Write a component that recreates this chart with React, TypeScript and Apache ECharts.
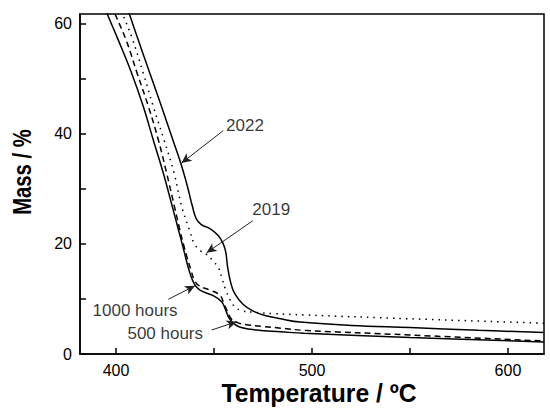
import React, { useEffect, useRef } from "react";
import * as echarts from "echarts";

// ---- data (temperature in °C, mass in %) ----
const temp2022 = [405.2, 406.8, 411.3, 417.3, 423.2, 429.0, 433.0, 436.4, 439, 440.9, 443.5, 447.9, 452, 454.5, 456, 456.9, 458.5, 460.5, 464.9, 470, 476, 484, 494, 520, 550, 585, 618.5];
const mass2022 = [63.5, 61.8, 57.1, 51, 45, 38.9, 34.7, 30.5, 26.8, 24.6, 23.5, 22.8, 21.6, 20.2, 18.5, 15.9, 13, 11, 9.0, 7.8, 7.0, 6.4, 5.8, 5.2, 4.8, 4.3, 3.9];

const temp2019 = [401.6, 403.4, 408.5, 413.9, 419, 424.5, 429.6, 433.5, 437.5, 440, 443, 446.2, 449, 452.2, 454.2, 455.8, 458, 460.5, 464, 470, 480, 496, 550, 618.5];
const mass2019 = [63.5, 61.8, 57.1, 51, 45, 38.9, 32.9, 26.8, 22.5, 20, 18.8, 18.1, 17.1, 15.7, 13.6, 11.8, 10, 8.6, 7.9, 7.6, 7.35, 7.1, 6.4, 5.6];

const temp1000h = [397.6, 399.5, 405.1, 410.8, 416.5, 421.6, 425.8, 429.8, 432.6, 434.5, 436.3, 438.2, 440, 442.5, 447.9, 453, 455, 456.5, 459, 462, 466, 475, 484, 496, 550, 618.5];
const mass1000h = [63.5, 61.8, 57.1, 51, 45, 38.9, 32.9, 26.8, 22.5, 19.8, 17.5, 15.3, 13.4, 12.4, 11.6, 10.7, 9.2, 8, 6.3, 5.7, 5.35, 5.0, 4.7, 4.3, 3.45, 2.36];

const temp500h = [393.5, 395.5, 401.1, 408, 413.9, 419, 424.1, 428.7, 431.9, 433.9, 435.9, 437.7, 440, 442.8, 449.6, 453.9, 455.6, 458.1, 462.4, 471.8, 484, 496, 550, 618.5];
const mass500h = [63.5, 61.8, 57.1, 51, 45, 38.9, 32.9, 26.8, 22.5, 19.8, 17, 14.7, 12.7, 11.6, 10.6, 9.5, 8.3, 6.3, 5.0, 4.36, 4.05, 3.75, 3.0, 2.2];

// ---- axes ----
const xLabelValues = [400, 500, 600];
const xTickValues = [400, 450, 500, 550, 600];
const yLabelValues = [0, 20, 40, 60];
const yTickValues = [0, 10, 20, 30, 40, 50, 60];

// ---- annotations ----
const noteText = ["2022", "2019", "1000 hours", "500 hours"];
const noteT = [465.8, 479.2, 409.7, 425.1];
const noteM = [41.6, 26.2, 7.95, 3.7];
const arrowStartT = [454.7, 469.7, 426.7, 448.8];
const arrowStartM = [40.6, 24.2, 9.95, 4.36];
const arrowTipT = [433.4, 446.2, 440.3, 461.5];
const arrowTipM = [34.7, 18.4, 12.4, 5.87];

const FONT = '"Liberation Sans", Arial, sans-serif';

const zip = (xs: number[], ys: number[]) => xs.map((x, i) => [x, ys[i]]);

export default function App() {
  const ref = useRef<HTMLDivElement>(null);

  useEffect(() => {
    if (!ref.current) return;
    const chart = echarts.init(ref.current, undefined, { renderer: "svg" });

    const lineSeries = (name: string, data: number[][], type: any) => ({
      name,
      type: "line",
      data,
      showSymbol: false,
      symbol: "none",
      smooth: 0.4,
      clip: true,
      silent: true,
      lineStyle: { color: "#000", width: 1.5, type },
    });

    chart.setOption({
      animation: false,
      backgroundColor: "#fff",
      grid: {
        left: 80,
        right: 6,
        top: 14,
        bottom: 60,
        show: true,
        borderColor: "#000",
        borderWidth: 1.5,
        backgroundColor: "transparent",
      },
      xAxis: {
        type: "value",
        min: 381.6,
        max: 618.4,
        axisLine: { show: true, onZero: false, lineStyle: { color: "#000", width: 1.5 } },
        axisTick: { show: true, inside: true, length: 6, customValues: xTickValues, lineStyle: { color: "#000", width: 1.5 } },
        axisLabel: { customValues: xLabelValues, fontSize: 16, color: "#000", fontFamily: FONT, margin: 8 },
        splitLine: { show: false },
      },
      yAxis: {
        type: "value",
        min: 0,
        max: 61.8,
        axisLine: { show: true, onZero: false, lineStyle: { color: "#000", width: 1.5 } },
        axisTick: { show: true, inside: true, length: 6, customValues: yTickValues, lineStyle: { color: "#000", width: 1.5 } },
        axisLabel: { customValues: yLabelValues, fontSize: 16, color: "#000", fontFamily: FONT, margin: 8 },
        splitLine: { show: false },
      },
      graphic: [
        {
          type: "text",
          x: 319,
          y: 393,
          scaleX: 0.95,
          silent: true,
          style: {
            text: "Temperature / ºC",
            fontSize: 26,
            fontWeight: "bold",
            fontFamily: FONT,
            fill: "#000",
            align: "center",
            verticalAlign: "middle",
          },
        },
        {
          type: "text",
          x: 22,
          y: 172,
          rotation: Math.PI / 2,
          scaleX: 0.78,
          silent: true,
          style: {
            text: "Mass / %",
            fontSize: 26,
            fontWeight: "bold",
            fontFamily: FONT,
            fill: "#000",
            align: "center",
            verticalAlign: "middle",
          },
        },
      ],
      series: [
        lineSeries("2022", zip(temp2022, mass2022), "solid"),
        lineSeries("2019", zip(temp2019, mass2019), [1.5, 5]),
        lineSeries("1000 hours", zip(temp1000h, mass1000h), [6, 4]),
        lineSeries("500 hours", zip(temp500h, mass500h), "solid"),
        {
          name: "notes",
          type: "scatter",
          silent: true,
          symbolSize: 1,
          itemStyle: { color: "transparent" },
          data: noteText.map((t, i) => ({ value: [noteT[i], noteM[i]], name: t })),
          label: {
            show: true,
            position: "inside",
            formatter: (p: any) => p.name,
            fontSize: 17,
            color: "#000",
            fontFamily: FONT,
          },
          markLine: {
            silent: true,
            symbol: ["none", "arrow"],
            symbolSize: [7, 10],
            label: { show: false },
            lineStyle: { color: "#222", width: 1, type: "solid" },
            data: noteText.map((_, i) => [
              { coord: [arrowStartT[i], arrowStartM[i]] },
              { coord: [arrowTipT[i], arrowTipM[i]] },
            ]),
          },
        },
      ],
    });

    return () => chart.dispose();
  }, []);

  return (
    <div
      ref={ref}
      style={{ position: "fixed", left: 0, top: 0, width: 550, height: 414, background: "#fff" }}
    />
  );
}
